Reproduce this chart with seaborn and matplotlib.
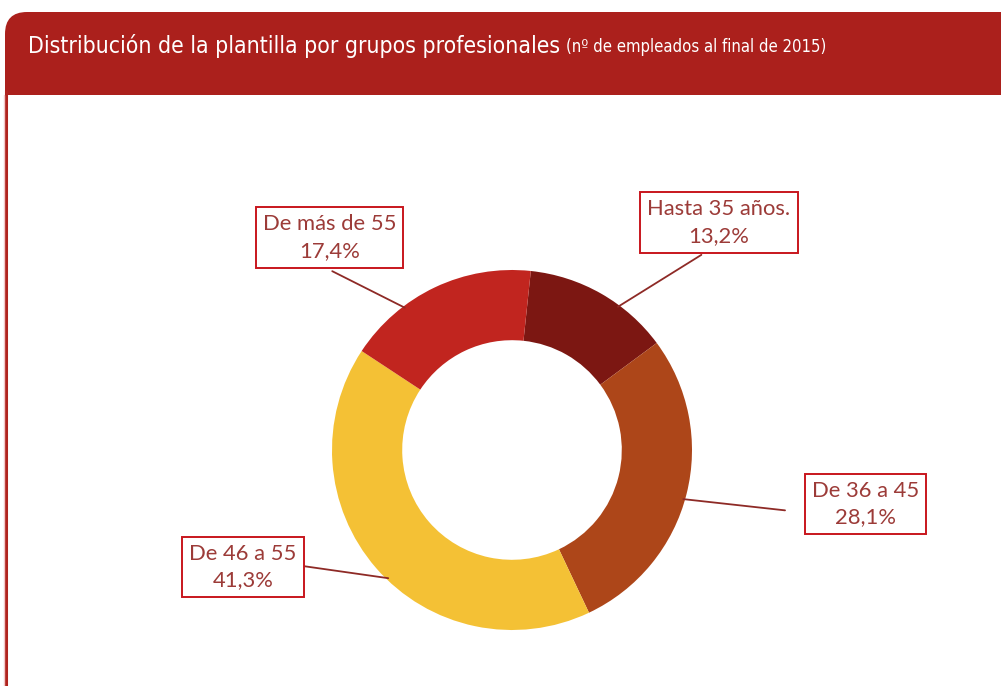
import numpy as np
import matplotlib
matplotlib.use("Agg")
import matplotlib.pyplot as plt
from matplotlib.patches import FancyBboxPatch, Rectangle
import seaborn as sns

# data
groups = ["Hasta 35 años.", "De 36 a 45", "De 46 a 55", "De más de 55"]
shares = [13.2, 28.1, 41.3, 17.4]
share_labels = ["13,2%", "28,1%", "41,3%", "17,4%"]
colors = ["#7C1712", "#AD4619", "#F4C135", "#C1251F"]

title_main = "Distribución de la plantilla por grupos profesionales"
title_sub = "(nº de empleados al final de 2015)"

sns.set_theme(style="white")
plt.rcParams["font.family"] = ["Lato", "DejaVu Sans"]

W, H = 1001, 686
fig = plt.figure(figsize=(W / 100, H / 100), dpi=100)

# background / frame in pixel coordinates
bg = fig.add_axes([0, 0, 1, 1])
bg.set_xlim(0, W)
bg.set_ylim(H, 0)
bg.axis("off")
header = FancyBboxPatch((5, 12), 1040, 140, boxstyle="round,pad=0,rounding_size=22",
                        fc="#AB201C", ec="none")
bg.add_patch(header)
bg.add_patch(Rectangle((7, 95), W, H, fc="white", ec="none"))
bg.plot([6, 6], [90, H], color="#B0231E", lw=2.2, solid_capstyle="butt")
bg.plot([3.5, 3.5], [95, H], color="#F2C9C8", lw=1)

t = bg.text(28, 46, title_main, color="white", fontsize=16.5, va="center", ha="left",
            family="DejaVu Sans", fontstretch="condensed")
fig.canvas.draw()
bb = t.get_window_extent()
bg.text(bb.x1 + 6, 47, title_sub, color="white", fontsize=12, va="center", ha="left",
        family="DejaVu Sans", fontstretch="condensed")

# donut: centre (512, 450), radius 180 px
cx, cy, r = 512, 450, 180
ax = fig.add_axes([(cx - r) / W, (H - cy - r) / H, 2 * r / W, 2 * r / H])
ax.set_facecolor("none")
wedges, _ = ax.pie(shares, colors=colors, startangle=84, counterclock=False,
                   radius=1, wedgeprops=dict(width=0.39, edgecolor="none"))
ax.set_xlim(-1, 1)
ax.set_ylim(-1, 1)
ax.set_aspect("equal")

# label box centres (pie units), leader anchor on box, leader gap
label_pos = [(1.15, 1.265), (1.965, -0.30), (-1.495, -0.65), (-1.015, 1.18)]
point_ang = [36.5, 106, 224, 323]  # clockwise from top, where the leader touches
rel_pos = [(0.48, 0), (0, 0.3), (1, 0.54), (0.37, 0)]
gaps = [2, 14, 0, 4]

for g, s, (tx, ty), a, rp, gp in zip(groups, share_labels, label_pos, point_ang, rel_pos, gaps):
    th = np.deg2rad(a)
    px, py = 0.99 * np.sin(th), 0.99 * np.cos(th)
    ax.annotate(f"{g}\n{s}", xy=(px, py), xytext=(tx, ty),
                ha="center", va="center", fontsize=15.8, color="#9C3B38",
                linespacing=1.42, annotation_clip=False,
                bbox=dict(boxstyle="square,pad=0.32", fc="white", ec="#C8161D", lw=1.4),
                arrowprops=dict(arrowstyle="-", color="#8E2A26", lw=1.3,
                                relpos=rp, shrinkA=gp, shrinkB=0))

fig.savefig("out.png", dpi=100)
